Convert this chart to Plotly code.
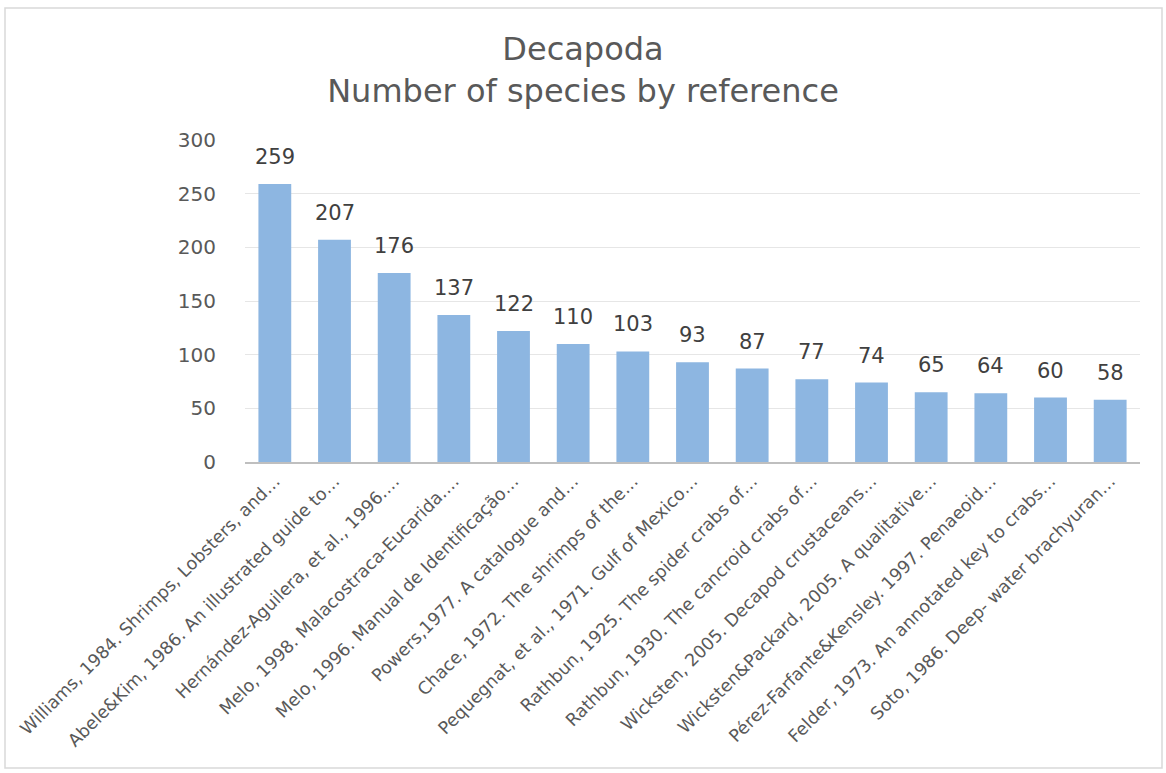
import plotly.graph_objects as go

references = [
    "Williams, 1984. Shrimps, Lobsters, and…",
    "Abele&Kim, 1986. An illustrated guide to…",
    "Hernández-Aguilera, et al., 1996.…",
    "Melo, 1998. Malacostraca-Eucarida.…",
    "Melo, 1996. Manual de Identificação…",
    "Powers,1977. A catalogue and…",
    "Chace, 1972. The shrimps of the…",
    "Pequegnat, et al., 1971. Gulf of Mexico…",
    "Rathbun, 1925. The spider crabs of…",
    "Rathbun, 1930. The cancroid crabs of…",
    "Wicksten, 2005. Decapod crustaceans…",
    "Wicksten&Packard, 2005. A qualitative…",
    "Pérez-Farfante&Kensley. 1997. Penaeoid…",
    "Felder, 1973. An annotated key to crabs…",
    "Soto, 1986. Deep- water brachyuran…",
]
species = [259, 207, 176, 137, 122, 110, 103, 93, 87, 77, 74, 65, 64, 60, 58]
y_ticks = [0, 50, 100, 150, 200, 250, 300]

W, H = 1166, 773
ML, MR, MT, MB = 245, 26, 140, 311
FONT = "'DejaVu Sans', sans-serif"

fig = go.Figure(
    go.Bar(
        x=references,
        y=species,
        marker=dict(color="#8DB6E1", line=dict(width=0)),
        hoverinfo="x+y",
    )
)

# value labels floating above each bar
for ref, n in zip(references, species):
    fig.add_annotation(
        x=ref, y=n, text=str(n), showarrow=False,
        yanchor="bottom", yshift=13,
        font=dict(size=21, color="#404040", family=FONT),
    )

# outer chart border, expressed in paper coordinates
pw, ph = W - ML - MR, H - MT - MB
def px_to_paper(x, y):
    return (x - ML) / pw, (H - MB - y) / ph

x0, y0 = px_to_paper(5, 768)
x1, y1 = px_to_paper(1162, 8)
fig.add_shape(type="rect", xref="paper", yref="paper", x0=x0, y0=y0, x1=x1, y1=y1,
              line=dict(color="#D9D9D9", width=1.5), layer="below")

fig.update_layout(
    width=W,
    height=H,
    margin=dict(l=ML, r=MR, t=MT, b=MB),
    paper_bgcolor="white",
    plot_bgcolor="white",
    showlegend=False,
    bargap=0.45,
    title=dict(
        text="Decapoda<br>Number of species by reference",
        x=0.5,
        xref="container",
        xanchor="center",
        y=1 - 60 / H,
        yanchor="middle",
        font=dict(size=32, color="#595959", family=FONT),
    ),
    font=dict(family=FONT, color="#595959"),
)
fig.update_xaxes(
    tickangle=-45,
    tickfont=dict(size=17.5, color="#595959"),
    showline=True,
    linecolor="#BFBFBF",
    linewidth=2,
    ticks="",
)
fig.update_yaxes(
    range=[0, 300],
    tickvals=y_ticks,
    tickfont=dict(size=20, color="#595959"),
    gridcolor="#E6E6E6",
    gridwidth=1,
    zeroline=False,
    ticks="",
    ticklabelstandoff=28,
)

fig.write_html("out.html")
